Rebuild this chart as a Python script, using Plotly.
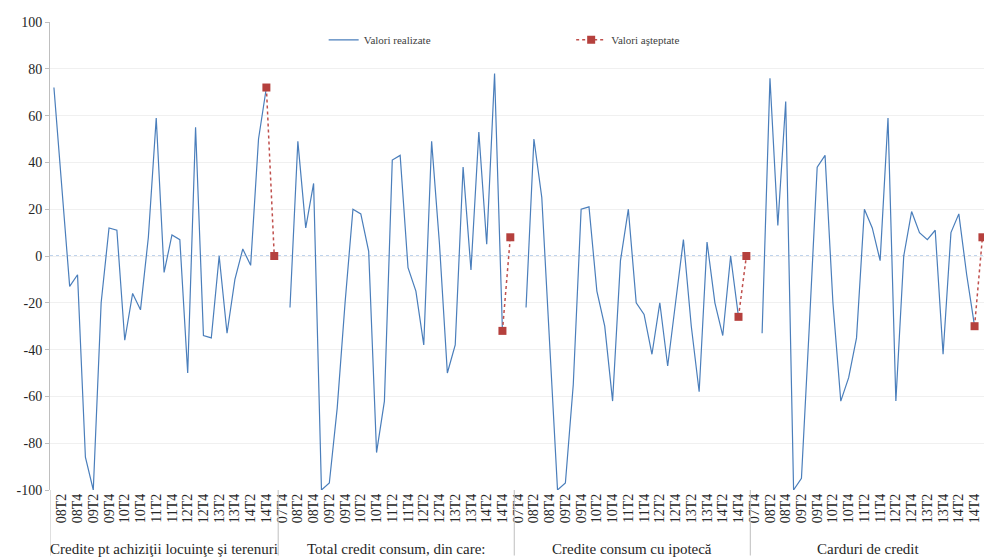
import plotly.graph_objects as go

# ---------------- data ----------------
GROUPS = [
    "Credite pt achiziţii locuinţe şi terenuri",
    "Total credit consum, din care:",
    "Credite consum cu ipotecă",
    "Carduri de credit",
]

QUARTERS = ["07T4",
            "08T1", "08T2", "08T3", "08T4",
            "09T1", "09T2", "09T3", "09T4",
            "10T1", "10T2", "10T3", "10T4",
            "11T1", "11T2", "11T3", "11T4",
            "12T1", "12T2", "12T3", "12T4",
            "13T1", "13T2", "13T3", "13T4",
            "14T1", "14T2", "14T3", "14T4",
            "15T1"]

# realized values 08T1 .. 14T4 for each group
REAL_LOCUINTE = [72, 30, -13, -8, -86, -100, -20, 12, 11, -36, -16, -23, 8, 59,
                 -7, 9, 7, -50, 55, -34, -35, 0, -33, -10, 3, -4, 50, 72]
REAL_CONSUM = [-22, 49, 12, 31, -100, -97, -65, -20, 20, 18, 2, -84, -62, 41,
               43, -5, -15, -38, 49, 5, -50, -38, 38, -6, 53, 5, 78, -32]
REAL_IPOTECA = [-22, 50, 25, -38, -100, -97, -55, 20, 21, -15, -30, -62, -2, 20,
                -20, -25, -42, -20, -47, -20, 7, -30, -58, 6, -20, -34, 0, -26]
REAL_CARDURI = [-33, 76, 13, 66, -100, -95, -30, 38, 43, -20, -62, -52, -35, 20,
                12, -2, 59, -62, 0, 19, 10, 7, 11, -42, 10, 18, -8, -30]

EXPECTED = [0, 8, 0, 8]   # 15T1 expected values

REALIZED = [REAL_LOCUINTE, REAL_CONSUM, REAL_IPOTECA, REAL_CARDURI]
GROUP_QUARTERS = [QUARTERS[1:], QUARTERS, QUARTERS, QUARTERS]

Y_TICKS = [100, 80, 60, 40, 20, 0, -20, -40, -60, -80, -100]
Y_TICK_TEXT = ["100", "80", "60", "40", "20", "0", "-20", "-40", "-60", "-80", "-100"]

# ---------------- build series ----------------
cats, blue_y, red_y = [], [], []
group_bounds = []
for g, (qs, real, exp) in enumerate(zip(GROUP_QUARTERS, REALIZED, EXPECTED)):
    real_q = QUARTERS[1:29]  # 08T1..14T4
    rmap = dict(zip(real_q, real))
    start = len(cats)
    for q in qs:
        cats.append(f"{g}|{q}")
        blue_y.append(rmap.get(q))
        if q == "14T4":
            red_y.append(real[-1])
        elif q == "15T1":
            red_y.append(exp)
        else:
            red_y.append(None)
    group_bounds.append((start, len(cats) - 1))

tickvals = [c for i, c in enumerate(cats) if i % 2 == 1]
ticktext = [c.split("|")[1] for i, c in enumerate(cats) if i % 2 == 1]

SERIF = "Liberation Serif, Times New Roman, serif"
BLUE = "#4a7ebb"
RED = "#c0504d"

fig = go.Figure()
fig.add_trace(go.Scatter(
    x=cats, y=blue_y, mode="lines", name="Valori realizate",
    line=dict(color=BLUE, width=1.2), connectgaps=False, legend="legend"))
fig.add_trace(go.Scatter(
    x=cats, y=red_y, mode="lines+markers", name="Valori aşteptate",
    line=dict(color=RED, width=1.5, dash="dot"),
    marker=dict(symbol="square", size=8, color="#b5403d"),
    connectgaps=False, legend="legend2"))

# zero line (dotted)
fig.add_shape(type="line", xref="paper", yref="y", x0=0, x1=1, y0=0, y1=0,
              line=dict(color="#7fa7d8", width=1, dash="dot"), layer="below")

# group separators and labels
n = len(cats)
for g, (s, e) in enumerate(group_bounds):
    fig.add_shape(type="line", xref="x", yref="paper", x0=s - 0.5, x1=s - 0.5,
                  y0=-0.14, y1=0, line=dict(color="#bfbfbf", width=1))
    fig.add_annotation(x=(s + e) / 2, xref="x", y=-0.125, yref="paper",
                       text=GROUPS[g], showarrow=False, yanchor="middle",
                       font=dict(family=SERIF, size=15, color="#262626"))

fig.update_layout(
    width=984, height=559,
    margin=dict(l=50, r=0, t=22, b=69),
    plot_bgcolor="white", paper_bgcolor="white",
    showlegend=True,
    legend=dict(x=0.293, y=0.962, xanchor="left", yanchor="middle",
                orientation="h", bgcolor="rgba(0,0,0,0)",
                font=dict(family=SERIF, size=11, color="#404040")),
    legend2=dict(x=0.558, y=0.962, xanchor="left", yanchor="middle",
                 orientation="h", bgcolor="rgba(0,0,0,0)",
                 font=dict(family=SERIF, size=11, color="#404040")),
    xaxis=dict(type="category", categoryorder="array", categoryarray=cats,
               range=[-0.5, n - 0.8], tickvals=tickvals, ticktext=ticktext,
               tickangle=-90, showgrid=False, zeroline=False, showline=False,
               ticks="", tickfont=dict(family=SERIF, size=14, color="#262626")),
    yaxis=dict(range=[-100, 100], tickvals=Y_TICKS, ticktext=Y_TICK_TEXT,
               showgrid=True, gridcolor="#f0f0f0", zeroline=False,
               showline=True, linecolor="#bfbfbf", ticks="outside",
               ticklen=4, tickcolor="#bfbfbf",
               tickfont=dict(family=SERIF, size=14, color="#262626")),
)

fig.write_html("out.html")
